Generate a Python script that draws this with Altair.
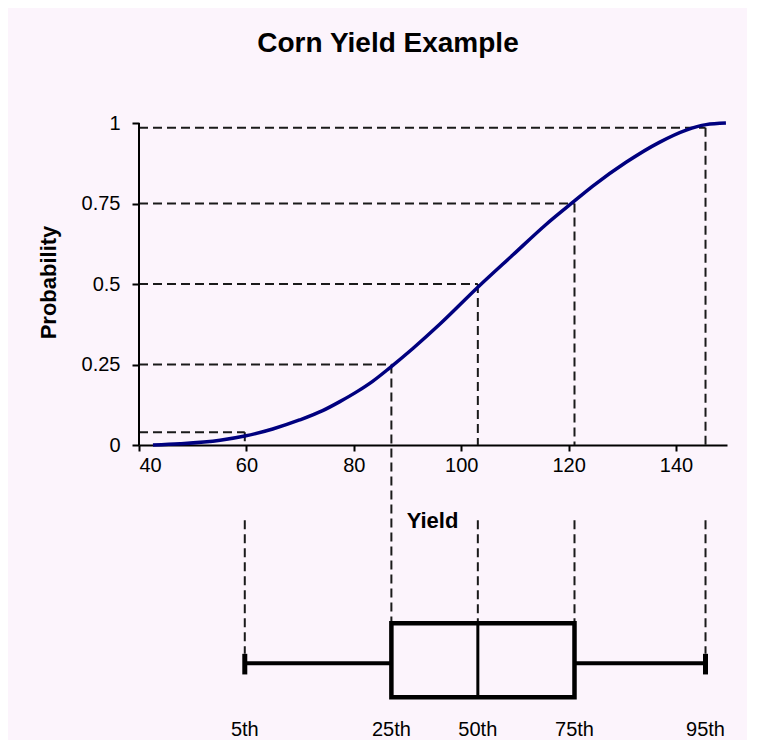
import altair as alt
import pandas as pd

FONT = "Liberation Sans"

# ---- data ----
curve_yield = [42.6, 47.6, 55.1, 59.7, 64.9, 69.9, 74.2, 77.4, 80.6, 83.5, 86.7,
               91.0, 96.0, 103.1, 109.6, 115.8, 121.1, 124.5, 130.7, 136.9,
               141.9, 145.6, 149.3]
curve_prob = [0.0, 0.004, 0.015, 0.028, 0.05, 0.078, 0.107, 0.135, 0.166, 0.198,
              0.24, 0.3, 0.375, 0.49, 0.59, 0.685, 0.758, 0.804, 0.878, 0.94,
              0.978, 0.995, 1.0]

pct_labels = ["5th", "25th", "50th", "75th", "95th"]
pct_yield = [59.7, 87.0, 103.1, 121.1, 145.5]
pct_prob = [0.04, 0.25, 0.5, 0.75, 0.985]

x_ticks = [40, 60, 80, 100, 120, 140]
y_ticks = [0, 0.25, 0.5, 0.75, 1]

# lower panel (box plot) levels, in probability-axis units
BOX_TOP, BOX_BOTTOM = -0.553, -0.783
WHISKER_Y = -0.677
CAP_TOP, CAP_BOTTOM = -0.648, -0.712
GUIDE_START = -0.233
LABEL_Y = -0.885

# ---- tables ----
curve = pd.DataFrame({"x": curve_yield, "y": curve_prob})

seg_rows = []
for i, (q, p) in enumerate(zip(pct_yield, pct_prob)):
    seg_rows.append({"x": 40, "x2": q, "y": p, "y2": p})
    if i == 1:
        seg_rows.append({"x": q, "x2": q, "y": p, "y2": BOX_TOP})
    else:
        seg_rows.append({"x": q, "x2": q, "y": p, "y2": 0})
        end = CAP_TOP if i in (0, 4) else BOX_TOP
        seg_rows.append({"x": q, "x2": q, "y": GUIDE_START, "y2": end})
guides = pd.DataFrame(seg_rows)

axis_line = pd.DataFrame({"x": [40], "x2": [40], "y": [0], "y2": [1]})

box = pd.DataFrame({"x": [pct_yield[1]], "x2": [pct_yield[3]],
                    "y": [BOX_TOP], "y2": [BOX_BOTTOM]})
median = pd.DataFrame({"x": [pct_yield[2]], "x2": [pct_yield[2]],
                       "y": [BOX_TOP], "y2": [BOX_BOTTOM]})
whiskers = pd.DataFrame({"x": [pct_yield[0], pct_yield[3]],
                         "x2": [pct_yield[1], pct_yield[4]],
                         "y": [WHISKER_Y, WHISKER_Y], "y2": [WHISKER_Y, WHISKER_Y]})
caps = pd.DataFrame({"x": [pct_yield[0], pct_yield[4]],
                     "x2": [pct_yield[0], pct_yield[4]],
                     "y": [CAP_TOP, CAP_TOP], "y2": [CAP_BOTTOM, CAP_BOTTOM]})
labels = pd.DataFrame({"x": pct_yield, "y": [LABEL_Y] * 5, "label": pct_labels})

# ---- encodings ----
x_scale = alt.Scale(domain=[40, 149.5], nice=False, zero=False)
y_scale = alt.Scale(domain=[-0.9, 1], nice=False, zero=False)

x_axis = alt.Axis(values=x_ticks, offset=-290, grid=False, format="d",
                  domainColor="black", domainWidth=2,
                  tickColor="black", tickWidth=2, tickSize=6,
                  labelFont=FONT, labelFontSize=20, labelColor="black", labelPadding=4,
                  title="Yield", titleFont=FONT, titleFontSize=22, titleFontWeight="bold",
                  titleColor="black", titleX=293, titleY=82, titleAlign="center",
                  titleBaseline="alphabetic")
y_axis = alt.Axis(values=y_ticks, format=".2~f", domain=False, grid=False,
                  tickColor="black", tickWidth=2, tickSize=7,
                  labelFont=FONT, labelFontSize=20, labelColor="black", labelPadding=12,
                  title="Probability", titleFont=FONT, titleFontSize=22,
                  titleFontWeight="bold", titleColor="black", titleAngle=270,
                  titleX=-84, titleY=159, titleAlign="center", titleBaseline="alphabetic")

X = alt.X("x:Q", scale=x_scale, axis=x_axis)
Y = alt.Y("y:Q", scale=y_scale, axis=y_axis)
X2 = alt.X2("x2")
Y2 = alt.Y2("y2")

dash = [9, 5]

guide_layer = alt.Chart(guides).mark_rule(color="#1a1a1a", strokeWidth=2,
                                          strokeDash=dash).encode(x=X, x2=X2, y=Y, y2=Y2)
axis_layer = alt.Chart(axis_line).mark_rule(color="black", strokeWidth=2).encode(
    x=X, x2=X2, y=Y, y2=Y2)
curve_layer = alt.Chart(curve).mark_line(color="#00007F", strokeWidth=3.5,
                                         interpolate="monotone").encode(x=X, y=Y)
box_layer = alt.Chart(box).mark_rect(fillOpacity=0, stroke="black", strokeWidth=4.5).encode(
    x=X, x2=X2, y=Y, y2=Y2)
median_layer = alt.Chart(median).mark_rule(color="black", strokeWidth=3).encode(
    x=X, x2=X2, y=Y, y2=Y2)
whisker_layer = alt.Chart(whiskers).mark_rule(color="black", strokeWidth=4).encode(
    x=X, x2=X2, y=Y, y2=Y2)
cap_layer = alt.Chart(caps).mark_rule(color="black", strokeWidth=5).encode(
    x=X, x2=X2, y=Y, y2=Y2)
label_layer = alt.Chart(labels).mark_text(font=FONT, fontSize=20, color="black",
                                          align="center", baseline="middle").encode(
    x=X, y=Y, text="label:N")

chart = alt.layer(
    guide_layer, axis_layer, curve_layer, box_layer, median_layer,
    whisker_layer, cap_layer, label_layer
).properties(
    width=588, height=612,
    padding={"left": 131, "top": 115, "right": 20, "bottom": 5},
    autosize=alt.AutoSizeParams(type="none"),
    title=alt.TitleParams("Corn Yield Example", font=FONT, fontSize=28,
                          fontWeight="bold", color="black", anchor="middle",
                          frame="group", dx=-45, offset=33, baseline="alphabetic"),
).configure(background="#FCF4FC").configure_view(stroke=None)

chart.save("out.html", embed_options={"renderer": "svg", "actions": False})
